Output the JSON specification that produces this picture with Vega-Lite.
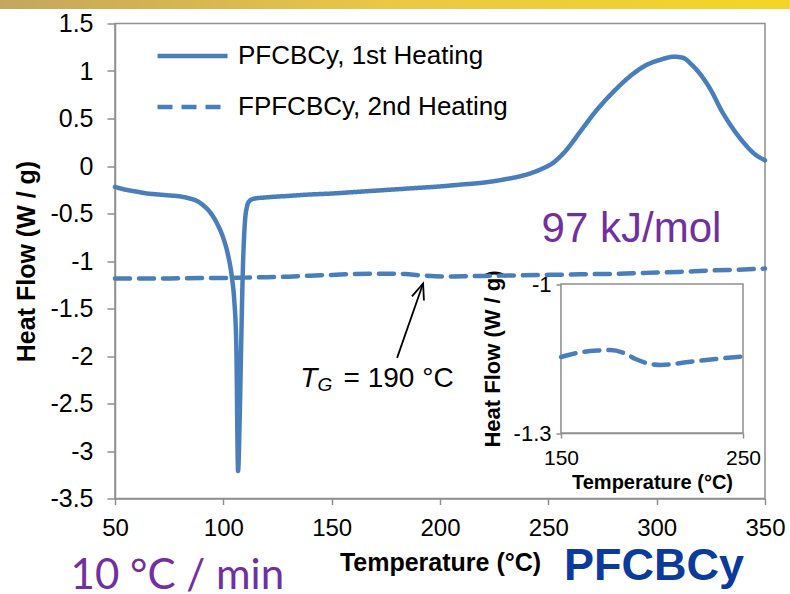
{
  "$schema": "https://vega.github.io/schema/vega-lite/v6.json",
  "width": 650,
  "height": 475,
  "autosize": {"type": "none"},
  "padding": {"left": 115, "top": 23.5, "right": 25, "bottom": 95.5},
  "background": "white",
  "config": {
    "font": "Liberation Sans",
    "view": {"stroke": "#8f8f8f", "strokeWidth": 1.5},
    "axis": {"grid": false, "domainColor": "#8f8f8f", "tickColor": "#8f8f8f", "domainWidth": 1.5, "tickWidth": 1.5, "labelColor": "black", "titleColor": "black", "labelFont": "Liberation Sans", "titleFont": "Liberation Sans", "labelFlush": false, "labelOverlap": false}
  },
  "datasets": {
    "one": [{}],
    "dsc": [
      {"series": "PFCBCy, 1st Heating", "T": 50, "HF": -0.22},
      {"series": "PFCBCy, 1st Heating", "T": 55, "HF": -0.25},
      {"series": "PFCBCy, 1st Heating", "T": 60, "HF": -0.27},
      {"series": "PFCBCy, 1st Heating", "T": 65, "HF": -0.29},
      {"series": "PFCBCy, 1st Heating", "T": 70, "HF": -0.3},
      {"series": "PFCBCy, 1st Heating", "T": 75, "HF": -0.31},
      {"series": "PFCBCy, 1st Heating", "T": 80, "HF": -0.32},
      {"series": "PFCBCy, 1st Heating", "T": 84, "HF": -0.34},
      {"series": "PFCBCy, 1st Heating", "T": 88, "HF": -0.37},
      {"series": "PFCBCy, 1st Heating", "T": 91, "HF": -0.42},
      {"series": "PFCBCy, 1st Heating", "T": 94, "HF": -0.49},
      {"series": "PFCBCy, 1st Heating", "T": 97, "HF": -0.6},
      {"series": "PFCBCy, 1st Heating", "T": 100, "HF": -0.76},
      {"series": "PFCBCy, 1st Heating", "T": 102, "HF": -0.92},
      {"series": "PFCBCy, 1st Heating", "T": 104, "HF": -1.18},
      {"series": "PFCBCy, 1st Heating", "T": 105, "HF": -1.4},
      {"series": "PFCBCy, 1st Heating", "T": 106, "HF": -1.9},
      {"series": "PFCBCy, 1st Heating", "T": 106.8, "HF": -3.21},
      {"series": "PFCBCy, 1st Heating", "T": 107.6, "HF": -2.6},
      {"series": "PFCBCy, 1st Heating", "T": 108.3, "HF": -1.8},
      {"series": "PFCBCy, 1st Heating", "T": 109, "HF": -1.1},
      {"series": "PFCBCy, 1st Heating", "T": 110, "HF": -0.58},
      {"series": "PFCBCy, 1st Heating", "T": 111, "HF": -0.42},
      {"series": "PFCBCy, 1st Heating", "T": 112, "HF": -0.37},
      {"series": "PFCBCy, 1st Heating", "T": 114, "HF": -0.345},
      {"series": "PFCBCy, 1st Heating", "T": 120, "HF": -0.33},
      {"series": "PFCBCy, 1st Heating", "T": 130, "HF": -0.315},
      {"series": "PFCBCy, 1st Heating", "T": 140, "HF": -0.3},
      {"series": "PFCBCy, 1st Heating", "T": 150, "HF": -0.29},
      {"series": "PFCBCy, 1st Heating", "T": 160, "HF": -0.275},
      {"series": "PFCBCy, 1st Heating", "T": 170, "HF": -0.26},
      {"series": "PFCBCy, 1st Heating", "T": 180, "HF": -0.245},
      {"series": "PFCBCy, 1st Heating", "T": 190, "HF": -0.23},
      {"series": "PFCBCy, 1st Heating", "T": 200, "HF": -0.215},
      {"series": "PFCBCy, 1st Heating", "T": 210, "HF": -0.195},
      {"series": "PFCBCy, 1st Heating", "T": 220, "HF": -0.175},
      {"series": "PFCBCy, 1st Heating", "T": 230, "HF": -0.14},
      {"series": "PFCBCy, 1st Heating", "T": 240, "HF": -0.09},
      {"series": "PFCBCy, 1st Heating", "T": 247, "HF": -0.03},
      {"series": "PFCBCy, 1st Heating", "T": 252, "HF": 0.03},
      {"series": "PFCBCy, 1st Heating", "T": 258, "HF": 0.16},
      {"series": "PFCBCy, 1st Heating", "T": 265, "HF": 0.37},
      {"series": "PFCBCy, 1st Heating", "T": 272, "HF": 0.58},
      {"series": "PFCBCy, 1st Heating", "T": 280, "HF": 0.78},
      {"series": "PFCBCy, 1st Heating", "T": 288, "HF": 0.95},
      {"series": "PFCBCy, 1st Heating", "T": 295, "HF": 1.06},
      {"series": "PFCBCy, 1st Heating", "T": 302, "HF": 1.12},
      {"series": "PFCBCy, 1st Heating", "T": 308, "HF": 1.15},
      {"series": "PFCBCy, 1st Heating", "T": 312, "HF": 1.14},
      {"series": "PFCBCy, 1st Heating", "T": 316, "HF": 1.07},
      {"series": "PFCBCy, 1st Heating", "T": 320, "HF": 0.97},
      {"series": "PFCBCy, 1st Heating", "T": 325, "HF": 0.8},
      {"series": "PFCBCy, 1st Heating", "T": 330, "HF": 0.58},
      {"series": "PFCBCy, 1st Heating", "T": 335, "HF": 0.4},
      {"series": "PFCBCy, 1st Heating", "T": 340, "HF": 0.25},
      {"series": "PFCBCy, 1st Heating", "T": 345, "HF": 0.13},
      {"series": "PFCBCy, 1st Heating", "T": 350, "HF": 0.06},
      {"series": "FPFCBCy, 2nd Heating", "T": 50, "HF": -1.185},
      {"series": "FPFCBCy, 2nd Heating", "T": 60, "HF": -1.185},
      {"series": "FPFCBCy, 2nd Heating", "T": 70, "HF": -1.185},
      {"series": "FPFCBCy, 2nd Heating", "T": 80, "HF": -1.182},
      {"series": "FPFCBCy, 2nd Heating", "T": 90, "HF": -1.18},
      {"series": "FPFCBCy, 2nd Heating", "T": 100, "HF": -1.178},
      {"series": "FPFCBCy, 2nd Heating", "T": 110, "HF": -1.175},
      {"series": "FPFCBCy, 2nd Heating", "T": 120, "HF": -1.17},
      {"series": "FPFCBCy, 2nd Heating", "T": 130, "HF": -1.165},
      {"series": "FPFCBCy, 2nd Heating", "T": 140, "HF": -1.155},
      {"series": "FPFCBCy, 2nd Heating", "T": 150, "HF": -1.147},
      {"series": "FPFCBCy, 2nd Heating", "T": 160, "HF": -1.138},
      {"series": "FPFCBCy, 2nd Heating", "T": 170, "HF": -1.134},
      {"series": "FPFCBCy, 2nd Heating", "T": 177, "HF": -1.133},
      {"series": "FPFCBCy, 2nd Heating", "T": 184, "HF": -1.138},
      {"series": "FPFCBCy, 2nd Heating", "T": 191, "HF": -1.151},
      {"series": "FPFCBCy, 2nd Heating", "T": 198, "HF": -1.16},
      {"series": "FPFCBCy, 2nd Heating", "T": 205, "HF": -1.163},
      {"series": "FPFCBCy, 2nd Heating", "T": 212, "HF": -1.161},
      {"series": "FPFCBCy, 2nd Heating", "T": 220, "HF": -1.157},
      {"series": "FPFCBCy, 2nd Heating", "T": 235, "HF": -1.151},
      {"series": "FPFCBCy, 2nd Heating", "T": 250, "HF": -1.146},
      {"series": "FPFCBCy, 2nd Heating", "T": 265, "HF": -1.14},
      {"series": "FPFCBCy, 2nd Heating", "T": 280, "HF": -1.135},
      {"series": "FPFCBCy, 2nd Heating", "T": 295, "HF": -1.125},
      {"series": "FPFCBCy, 2nd Heating", "T": 310, "HF": -1.115},
      {"series": "FPFCBCy, 2nd Heating", "T": 325, "HF": -1.1},
      {"series": "FPFCBCy, 2nd Heating", "T": 340, "HF": -1.09},
      {"series": "FPFCBCy, 2nd Heating", "T": 350, "HF": -1.08}
    ]
  },
  "layer": [
    {
      "layer": [
        {
          "data": {"name": "dsc"},
          "mark": {"type": "line", "color": "#4a7ebb", "strokeWidth": 4.5, "strokeCap": "round", "interpolate": "monotone"},
          "encoding": {
            "x": {"field": "T", "type": "quantitative", "scale": {"domain": [50, 350], "nice": false, "zero": false},
              "axis": {"values": [50, 100, 150, 200, 250, 300, 350], "tickSize": 6, "labelFontSize": 24, "labelPadding": 12, "title": "Temperature (°C)", "titleFontSize": 25, "titleFontWeight": "bold", "titlePadding": 10}},
            "y": {"field": "HF", "type": "quantitative", "scale": {"domain": [-3.5, 1.5], "nice": false, "zero": false},
              "axis": {"values": [-3.5, -3, -2.5, -2, -1.5, -1, -0.5, 0, 0.5, 1, 1.5], "tickSize": 8, "labelFontSize": 25, "labelPadding": 14, "labelExpr": "replace(format(datum.value, '~g'), '−', '-')", "title": "Heat Flow (W / g)", "titleFontSize": 25, "titleFontWeight": "bold", "titlePadding": 10}},
            "strokeDash": {"field": "series", "type": "nominal",
              "scale": {"domain": ["PFCBCy, 1st Heating", "FPFCBCy, 2nd Heating"], "range": [[1, 0], [15, 9]]},
              "legend": {"title": null, "orient": "none", "legendX": 40, "legendY": -5, "padding": 0, "symbolType": "stroke", "symbolSize": 4900, "symbolStrokeWidth": 4.5, "symbolStrokeColor": "#4a7ebb", "labelFontSize": 26, "labelFont": "Liberation Sans", "labelColor": "black", "labelOffset": 8, "rowPadding": -23, "labelLimit": 400}}
          }
        },
        {
          "data": {"name": "one"},
          "mark": {"type": "rule", "color": "black", "strokeWidth": 1.8},
          "encoding": {"x": {"datum": 180.2, "type": "quantitative"}, "y": {"datum": -2.02, "type": "quantitative"}, "x2": {"datum": 192.2}, "y2": {"datum": -1.237}}
        },
        {
          "data": {"name": "one"},
          "mark": {"type": "point", "shape": "M-0.4,1L0,0L0.4,1", "filled": false, "stroke": "black", "strokeWidth": 1.8, "angle": 19, "size": 1000, "opacity": 1},
          "encoding": {"x": {"datum": 192.2, "type": "quantitative"}, "y": {"datum": -1.237, "type": "quantitative"}}
        },
        {
          "data": {"name": "one"},
          "mark": {"type": "text", "text": "T", "fontStyle": "italic", "fontSize": 28, "align": "left", "baseline": "alphabetic", "color": "black", "font": "Liberation Sans"},
          "encoding": {"x": {"datum": 135.5, "type": "quantitative"}, "y": {"datum": -2.326, "type": "quantitative"}}
        },
        {
          "data": {"name": "one"},
          "mark": {"type": "text", "text": "G", "fontStyle": "italic", "fontSize": 19, "align": "left", "baseline": "alphabetic", "color": "black", "font": "Liberation Sans"},
          "encoding": {"x": {"datum": 143.5, "type": "quantitative"}, "y": {"datum": -2.37, "type": "quantitative"}}
        },
        {
          "data": {"name": "one"},
          "mark": {"type": "text", "text": "= 190 °C", "fontSize": 28, "align": "left", "baseline": "alphabetic", "color": "black", "font": "Liberation Sans"},
          "encoding": {"x": {"datum": 155.5, "type": "quantitative"}, "y": {"datum": -2.326, "type": "quantitative"}}
        },
        {
          "data": {"name": "one"},
          "mark": {"type": "text", "text": "97 kJ/mol", "fontSize": 42, "align": "left", "baseline": "alphabetic", "color": "#7030a0", "font": "Liberation Sans"},
          "encoding": {"x": {"datum": 246.9, "type": "quantitative"}, "y": {"datum": -0.797, "type": "quantitative"}}
        },
        {
          "data": {"name": "one"},
          "mark": {"type": "text", "text": "10 °C / min", "fontSize": 42, "align": "left", "baseline": "alphabetic", "color": "#7030a0", "font": "Lato"},
          "encoding": {"x": {"datum": 29.5, "type": "quantitative"}, "y": {"datum": -4.45, "type": "quantitative"}}
        },
        {
          "data": {"name": "one"},
          "mark": {"type": "text", "text": "PFCBCy", "fontSize": 45, "fontWeight": "bold", "align": "left", "baseline": "alphabetic", "color": "#0a3a9c", "font": "Liberation Sans"},
          "encoding": {"x": {"datum": 257.2, "type": "quantitative"}, "y": {"datum": -4.36, "type": "quantitative"}}
        },
        {
          "data": {"name": "one"},
          "mark": {"type": "rect", "fill": {"gradient": "linear", "stops": [{"offset": 0, "color": "#c6a55e"}, {"offset": 0.5, "color": "#e9c944"}, {"offset": 1, "color": "#f4d526"}]}},
          "encoding": {"x": {"datum": -3.1, "type": "quantitative"}, "x2": {"datum": 361.5}, "y": {"datum": 1.653, "type": "quantitative"}, "y2": {"datum": 1.75}}
        }
      ]
    },
    {
      "layer": [
        {
          "data": {"name": "one"},
          "mark": {"type": "rect", "fill": "white", "stroke": "#8f8f8f", "strokeWidth": 1.5},
          "encoding": {
            "x": {"datum": 150, "type": "quantitative", "scale": {"domain": [150, 250], "range": [446, 628], "nice": false, "zero": false},
              "axis": {"orient": "bottom", "offset": -65.5, "values": [150, 250], "tickSize": 5, "labelFontSize": 21, "labelPadding": 9, "title": "Temperature (°C)", "titleFontSize": 20, "titleFontWeight": "bold", "titlePadding": 4}},
            "x2": {"datum": 250},
            "y": {"datum": -1.3, "type": "quantitative", "scale": {"domain": [-1.3, -1], "range": [409.5, 260.5], "nice": false, "zero": false},
              "axis": {"orient": "left", "offset": -446, "values": [-1.3, -1], "tickSize": 5, "labelFontSize": 22, "labelPadding": 5, "labelExpr": "replace(format(datum.value, '~g'), '−', '-')", "title": "Heat Flow (W / g)", "titleFontSize": 22, "titleFontWeight": "bold", "titlePadding": 9}},
            "y2": {"datum": -1}
          }
        },
        {
          "data": {"name": "dsc"},
          "transform": [{"filter": "datum.series === 'FPFCBCy, 2nd Heating' && datum.T >= 150 && datum.T <= 250"}],
          "mark": {"type": "line", "color": "#4a7ebb", "strokeWidth": 4.5, "strokeCap": "round", "strokeDash": [15, 9], "interpolate": "monotone"},
          "encoding": {
            "x": {"field": "T", "type": "quantitative"},
            "y": {"field": "HF", "type": "quantitative"}
          }
        }
      ]
    }
  ],
  "resolve": {"scale": {"x": "independent", "y": "independent"}, "axis": {"x": "independent", "y": "independent"}}
}
